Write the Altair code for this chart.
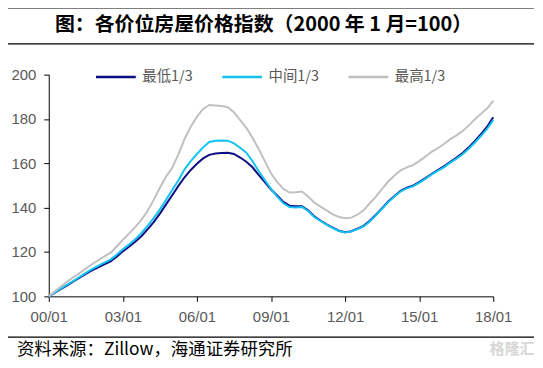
import altair as alt
import pandas as pd

SERIES = ["最低1/3", "中间1/3", "最高1/3"]
COLORS = ["#0d0d85", "#14c3f3", "#c0c0c0"]

# quarterly readings, 2000Q1 .. 2018Q1 (index, Jan 2000 = 100)
START_YEAR = 2000.0
STEP = 0.25

low = [100, 101.7, 103.4, 105, 106.7, 108.4, 110.1, 111.7, 113.1, 114.4, 115.8, 117.9,
       120.3, 122.4, 124.6, 127.1, 130.2, 133.5, 137.3, 141.5, 145.6, 149.8, 153.7, 157,
       159.8, 162.2, 163.8, 164.4, 164.7, 164.8, 164.2, 162.6, 160.7, 158.2, 154.8, 151.5,
       148.2, 145.5, 142.6, 140.9, 140.6, 140.6, 138.8, 136.1, 134.2, 132.5, 131, 129.6,
       128.9, 129.4, 130.5, 131.8, 134.1, 136.8, 139.8, 142.8, 145.3, 147.6, 149, 149.9,
       151.5, 153.3, 155.2, 156.9, 158.6, 160.6, 162.5, 164.5, 167.1, 170, 173.1, 176.5, 180.8]

mid = [100, 101.8, 103.6, 105.3, 107, 108.8, 110.6, 112.3, 113.8, 115.2, 116.6, 118.8,
       121.2, 123.4, 125.8, 128.5, 131.8, 135.3, 139.2, 143.5, 148, 152.3, 157.3, 161,
       164.2, 167.2, 169.6, 170.2, 170.3, 170.2, 169, 167, 164.8, 161, 156.5, 152.5,
       148.5, 145, 142, 140.3, 140.1, 140.3, 138.5, 135.8, 134, 132.3, 130.8, 129.5,
       128.8, 129.3, 130.3, 131.5, 133.8, 136.5, 139.5, 142.5, 145, 147.3, 148.7, 149.6,
       151.2, 153, 154.9, 156.6, 158.2, 160.2, 162, 164, 166.5, 169.3, 172.3, 175.5, 179.5]

high = [100, 102.3, 104.5, 106.7, 108.7, 110.5, 112.5, 114.5, 116.3, 118, 119.6, 122.5,
        125.5, 128.3, 131.2, 134.5, 138.5, 143.5, 149, 154, 158, 164, 171, 176.5,
        181, 184.5, 186.3, 186.1, 185.8, 185.3, 183, 179.5, 176, 171.5, 166.5, 161,
        155.5, 151.5, 148.5, 146.8, 147, 147.3, 145, 142.3, 140.5, 138.8, 137, 135.8,
        135.2, 135.5, 136.8, 138.8, 142, 145, 148.5, 151.8, 154.5, 156.8, 158.2, 159.2,
        161, 163, 165.2, 166.8, 168.7, 170.8, 172.5, 174.5, 177, 179.8, 182.3, 184.7, 188.3]

X_TICKS = [2000, 2003, 2006, 2009, 2012, 2015, 2018]
Y_TICKS = [100, 120, 140, 160, 180, 200]

TITLE = "图：各价位房屋价格指数（2000 年 1 月=100）"
SOURCE = "资料来源：Zillow，海通证券研究所"
WATERMARK = "格隆汇"

rows = []
for name, vals in zip(SERIES, [low, mid, high]):
    for i, v in enumerate(vals):
        rows.append({"t": START_YEAR + i * STEP, "v": v, "s": name})
df = pd.DataFrame(rows)

AXIS_FONT = "Liberation Sans"
CJK = "Noto Sans CJK SC"

lines = alt.Chart(df).mark_line(strokeWidth=2).encode(
    x=alt.X("t:Q",
            scale=alt.Scale(domain=[2000, 2018], nice=False, zero=False),
            axis=alt.Axis(values=X_TICKS, title=None, grid=False,
                          labelExpr="format(datum.value - 2000, '02d') + '/01'",
                          labelFont=AXIS_FONT, labelFontSize=15, labelColor="#595959",
                          labelPadding=8, tickSize=5, tickColor="black",
                          domainColor="black", labelFlush=False)),
    y=alt.Y("v:Q",
            scale=alt.Scale(domain=[100, 200], nice=False, zero=False),
            axis=alt.Axis(values=Y_TICKS, title=None, grid=False,
                          labelFont=AXIS_FONT, labelFontSize=15, labelColor="#595959",
                          labelPadding=8, tickSize=5, tickColor="black",
                          domainColor="black")),
    color=alt.Color("s:N",
                    scale=alt.Scale(domain=SERIES, range=COLORS),
                    sort=SERIES,
                    legend=alt.Legend(title=None, orient="none", direction="horizontal",
                                      legendX=46, legendY=-19, symbolType="stroke",
                                      symbolSize=1600, symbolStrokeWidth=2.5,
                                      labelFont=CJK, labelFontSize=14.5,
                                      labelColor="#595959", labelOffset=5,
                                      columnPadding=24, padding=0)),
)

one = pd.DataFrame({"k": [0]})

def hrule(y):
    return alt.Chart(one).mark_rule(color="black", strokeWidth=1.2).encode(
        x=alt.value(-44), x2=alt.value(488), y=alt.value(y))

title = alt.Chart(pd.DataFrame({"txt": [TITLE]})).mark_text(
    font=CJK, fontSize=20, fontWeight="bold", color="black",
    align="center", baseline="middle").encode(
    text="txt:N", x=alt.value(216), y=alt.value(-50))

source = alt.Chart(pd.DataFrame({"txt": [SOURCE]})).mark_text(
    font=CJK, fontSize=17.5, color="black",
    align="left", baseline="middle").encode(
    text="txt:N", x=alt.value(-32), y=alt.value(277))

wm = alt.Chart(pd.DataFrame({"txt": [WATERMARK]})).mark_text(
    font=CJK, fontSize=15, fontWeight="bold", color="#d6d6d6",
    align="center", baseline="middle").encode(
    text="txt:N", x=alt.value(466), y=alt.value(276))

chart = alt.layer(
    lines, hrule(-67), hrule(-31), hrule(264), title, source, wm
).properties(
    width=447, height=223,
    padding={"left": 41, "top": 66, "right": 42, "bottom": 63},
    autosize=alt.AutoSizeParams(type="none"),
).configure_view(strokeWidth=0)

chart.save("out.html", embed_options={"renderer": "svg", "actions": False})
